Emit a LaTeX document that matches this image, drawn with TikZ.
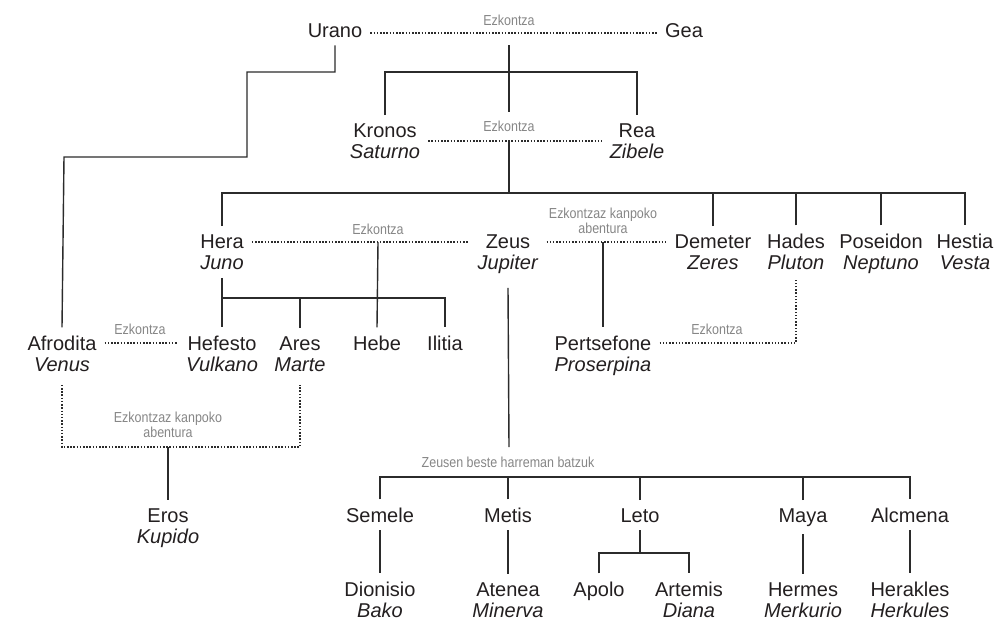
\documentclass[tikz,border=0pt]{standalone}
\usepackage{fontspec}
\setmainfont{Liberation Sans}
\newfontfamily\notefont[FakeStretch=0.86]{Liberation Sans}
\usepackage{xcolor}
\usetikzlibrary{positioning}
\definecolor{inkgray}{HTML}{231F20}
\definecolor{linegray}{HTML}{2B2B2B}
\definecolor{notegray}{HTML}{868686}

\begin{document}
\begin{tikzpicture}[x=1pt, y=-1pt]
    % Define styles (two-line nodes sit on the baseline of their second line)
    \tikzstyle{god} = [anchor=base, align=center, text=inkgray, font=\fontsize{20}{21.5}\selectfont, inner xsep=8pt, inner ysep=8pt]
    \tikzstyle{note} = [anchor=base, align=center, text=notegray, font=\notefont\fontsize{14.5}{15}\selectfont, inner sep=0pt]
    \tikzstyle{tie} = [draw=linegray, line width=1.4pt]
    \tikzstyle{wed} = [draw=linegray, line width=1.2pt, dash pattern=on 1.5pt off 1.7pt]

    \useasboundingbox (0,0) rectangle (996,621);

    % Nodes
    \node[god] (urano) at (335,37) {Urano};
    \node[god] (gea) at (684,37) {Gea};
    \node[god] (kronos) at (385,158.5) {Kronos\\\textit{Saturno}};
    \node[god] (rea) at (637,158.5) {Rea\\\textit{Zibele}};
    \node[god] (hera) at (222,269.5) {Hera\\\textit{Juno}};
    \node[god] (zeus) at (508,269.5) {Zeus\\\textit{Jupiter}};
    \node[god] (demeter) at (713,269.5) {Demeter\\\textit{Zeres}};
    \node[god] (hades) at (796,269.5) {Hades\\\textit{Pluton}};
    \node[god] (poseidon) at (881,269.5) {Poseidon\\\textit{Neptuno}};
    \node[god] (hestia) at (965,269.5) {Hestia\\\textit{Vesta}};
    \node[god] (afrodita) at (62,371.5) {Afrodita\\\textit{Venus}};
    \node[god] (hefesto) at (222,371.5) {Hefesto\\\textit{Vulkano}};
    \node[god] (ares) at (300,371.5) {Ares\\\textit{Marte}};
    \node[god] (hebe) at (377,350) {Hebe};
    \node[god] (ilitia) at (445,350) {Ilitia};
    \node[god] (pertsefone) at (603,371.5) {Pertsefone\\\textit{Proserpina}};
    \node[god] (eros) at (168,543.5) {Eros\\\textit{Kupido}};
    \node[god] (semele) at (380,522) {Semele};
    \node[god] (metis) at (508,522) {Metis};
    \node[god] (leto) at (640,522) {Leto};
    \node[god] (maya) at (803,522) {Maya};
    \node[god] (alcmena) at (910,522) {Alcmena};
    \node[god] (dionisio) at (380,617.5) {Dionisio\\\textit{Bako}};
    \node[god] (atenea) at (508,617.5) {Atenea\\\textit{Minerva}};
    \node[god] (apolo) at (599,596) {Apolo};
    \node[god] (artemis) at (689,617.5) {Artemis\\\textit{Diana}};
    \node[god] (hermes) at (803,617.5) {Hermes\\\textit{Merkurio}};
    \node[god] (herakles) at (910,617.5) {Herakles\\\textit{Herkules}};

    % Notes
    \node[note] (wedug) at (509,25) {Ezkontza};
    \node[note] (wedkr) at (509,131) {Ezkontza};
    \node[note] (wedhz) at (378,234) {Ezkontza};
    \node[note] (affairzd) at (603,233) {Ezkontzaz kanpoko\\abentura};
    \node[note] (wedph) at (717,334) {Ezkontza};
    \node[note] (wedah) at (140,334) {Ezkontza};
    \node[note] (affairaa) at (168,437) {Ezkontzaz kanpoko\\abentura};
    \node[note] (others) at (508,467) {Zeusen beste harreman batzuk};

    % Junctions
    \coordinate (ug) at (509,45);
    \coordinate (ugend) at (509,112);
    \coordinate (ugbar) at (509,72);
    \coordinate (uturn) at (247,72);
    \coordinate (aturn) at (64,157);
    \coordinate (kr) at (509,140);
    \coordinate (rowbar) at (509,193);
    \coordinate (hz) at (378,242);
    \coordinate (kids) at (445,298);
    \coordinate (zd) at (603,242);
    \coordinate (erosbar) at (168,447);
    \coordinate (zeusend) at (509,447);
    \coordinate (otherbar) at (508,477);
    \coordinate (twins) at (640,553);

    % Marriages and affairs
    \draw[wed] ([yshift=4pt]urano.base east) -- ([yshift=4pt]gea.base west);
    \draw[wed] (kronos.east) -- (rea.west);
    \draw[wed] ([yshift=27.5pt]hera.base east) -- ([yshift=27.5pt]zeus.base west);
    \draw[wed] ([yshift=27.5pt]zeus.base east) -- ([yshift=27.5pt]demeter.base west);
    \draw[wed] ([yshift=28.5pt]afrodita.base east) -- ([yshift=28.5pt]hefesto.base west);
    \draw[wed] ([yshift=28.5pt]pertsefone.base east) -| (hades.south);
    \draw[wed] ([yshift=-5pt]afrodita.south) |- (erosbar) -| ([yshift=-5pt]ares.south);

    % Descent
    \draw[tie] (ug) -- (ugend);
    \draw[tie] (kronos.north) |- (ugbar) -| (rea.north);
    \draw[tie] (urano.south) |- (uturn) |- (aturn) -- (afrodita.north);
    \draw[tie] (kr) -- (rowbar);
    \draw[tie] (hera.north) -- (hera.north |- rowbar) -- (hestia.north |- rowbar) -- (hestia.north);
    \foreach \g in {demeter,hades,poseidon}
        \draw[tie] (\g.north) -- (\g.north |- rowbar);
    \draw[tie] (hz) -- (hebe.north);
    \draw[tie] (hera.south) -- (hefesto.north);
    \draw[tie] (hera.south |- kids) -| (ilitia.north);
    \draw[tie] (ares.north) -- (ares.north |- kids);
    \draw[tie] (zd) -- (pertsefone.north);
    \draw[tie] (erosbar) -- (eros.north);
    \draw[tie] ([yshift=-6pt]zeus.south) -- (zeusend);
    \draw[tie] (semele.north) -- (semele.north |- otherbar) -- (alcmena.north |- otherbar) -- (alcmena.north);
    \foreach \g in {metis,leto,maya}
        \draw[tie] (\g.north) -- (\g.north |- otherbar);
    \foreach \a/\b in {semele/dionisio, metis/atenea, maya/hermes, alcmena/herakles}
        \draw[tie] (\a.south) -- (\b.north);
    \draw[tie] (leto.south) -- (leto.south |- twins);
    \draw[tie] (apolo.north) |- (twins) -| (artemis.north);
\end{tikzpicture}
\end{document}
